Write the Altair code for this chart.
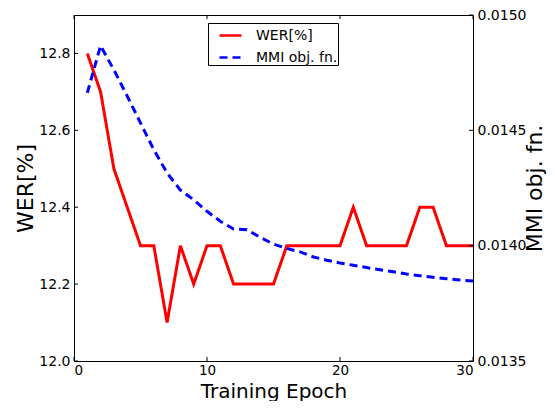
import altair as alt
import pandas as pd

epochs = list(range(1, 31))
wer = [12.8, 12.7, 12.5, 12.4, 12.3, 12.3, 12.1, 12.3, 12.2, 12.3,
       12.3, 12.2, 12.2, 12.2, 12.2, 12.3, 12.3, 12.3, 12.3, 12.3,
       12.4, 12.3, 12.3, 12.3, 12.3, 12.4, 12.4, 12.3, 12.3, 12.3]
mmi = [0.014662, 0.014867, 0.014762, 0.014649, 0.014532, 0.014416, 0.014315, 0.014241, 0.014199, 0.014149,
       0.014106, 0.014072, 0.014069, 0.014036, 0.014007, 0.013988, 0.013973, 0.013951, 0.013937, 0.013925,
       0.013915, 0.013905, 0.013896, 0.013887, 0.013877, 0.013870, 0.013863, 0.013857, 0.013851, 0.013847]
series_names = ["WER[%]", "MMI obj. fn."]
x_ticks = [0, 10, 20, 30]
wer_ticks = [12.0, 12.2, 12.4, 12.6, 12.8]
mmi_ticks = [0.0135, 0.0140, 0.0145, 0.0150]

W, H = 399, 346
FONT = "DejaVu Sans"

df_wer = pd.DataFrame({"epoch": epochs, "value": wer, "series": series_names[0]})
df_mmi = pd.DataFrame({"epoch": epochs, "value": mmi, "series": series_names[1]})

xscale = alt.Scale(domain=[0, 30], nice=False, zero=False)
wer_scale = alt.Scale(domain=[12.0, 12.9], nice=False, zero=False)
mmi_scale = alt.Scale(domain=[0.0135, 0.0150], nice=False, zero=False)

x_axis = alt.Axis(values=x_ticks, format="d", title="Training Epoch", ticks=False, labelPadding=2,
                  labelFontSize=13.5, titleY=36, titleBaseline="alphabetic", titleFontSize=20,
                  grid=False, domain=False)
wer_axis = alt.Axis(orient="left", values=wer_ticks, format=".1f", title="WER[%]", ticks=False,
                    labelPadding=4, grid=False, domain=False, titleX=-49, titleY=H / 2,
                    titleAngle=270, titleAlign="center", titleBaseline="middle")
mmi_axis = alt.Axis(orient="right", values=mmi_ticks, format=".4f", title="MMI obj. fn.", ticks=False,
                    labelPadding=4, grid=False, domain=False, titleX=61, titleY=H / 2,
                    titleAngle=270, titleAlign="center", titleBaseline="middle")

leg = alt.Legend(
    title=None, orient="none", legendX=134, legendY=8, direction="vertical",
    symbolType="stroke", symbolSize=484, symbolStrokeWidth=2.5,
    labelFontSize=14, labelFont=FONT, labelColor="black",
    strokeColor="black", fillColor="white", padding=0, symbolOffset=10,
    labelOffset=13, rowPadding=2, cornerRadius=0,
)
color = alt.Color("series:N", scale=alt.Scale(domain=series_names, range=["#ff0000", "#0000ff"]), legend=leg)
dash = alt.StrokeDash("series:N", scale=alt.Scale(domain=series_names, range=[[1, 0], [8, 5]]), legend=leg)

wer_line = alt.Chart(df_wer).mark_line(strokeWidth=3).encode(
    x=alt.X("epoch:Q", scale=xscale, axis=x_axis),
    y=alt.Y("value:Q", scale=wer_scale, axis=wer_axis),
    color=color, strokeDash=dash,
)
left_ticks = alt.Chart(pd.DataFrame({"value": wer_ticks})).mark_rule(color="black", strokeWidth=1).encode(
    y=alt.Y("value:Q", scale=wer_scale, axis=wer_axis), x=alt.value(0), x2=alt.value(4))
bottom_ticks = alt.Chart(pd.DataFrame({"epoch": x_ticks})).mark_rule(color="black", strokeWidth=1).encode(
    x=alt.X("epoch:Q", scale=xscale, axis=x_axis), y=alt.value(H - 4), y2=alt.value(H))
top_ticks = alt.Chart(pd.DataFrame({"epoch": x_ticks})).mark_rule(color="black", strokeWidth=1).encode(
    x=alt.X("epoch:Q", scale=xscale, axis=x_axis), y=alt.value(0), y2=alt.value(4))

mmi_line = alt.Chart(df_mmi).mark_line(strokeWidth=3, strokeCap="butt").encode(
    x=alt.X("epoch:Q", scale=xscale, axis=x_axis),
    y=alt.Y("value:Q", scale=mmi_scale, axis=mmi_axis),
    color=color, strokeDash=dash,
)
right_ticks = alt.Chart(pd.DataFrame({"value": mmi_ticks})).mark_rule(color="black", strokeWidth=1).encode(
    y=alt.Y("value:Q", scale=mmi_scale, axis=mmi_axis), x=alt.value(W - 4), x2=alt.value(W))

wer_layer = alt.layer(wer_line, left_ticks, bottom_ticks, top_ticks)
mmi_layer = alt.layer(mmi_line, right_ticks)

chart = alt.layer(wer_layer, mmi_layer).resolve_scale(y="independent").properties(
    width=W, height=H,
    padding={"left": 66, "top": 7, "right": 74, "bottom": 40},
    autosize=alt.AutoSizeParams(type="none"),
    background="white",
).configure_view(stroke="black", strokeWidth=1).configure_axis(
    labelFont=FONT, labelFontSize=14, labelColor="black",
    titleFont=FONT, titleFontSize=22, titleFontWeight="normal", titleColor="black",
)

chart.save("out.html", embed_options={"renderer": "svg", "actions": False})
